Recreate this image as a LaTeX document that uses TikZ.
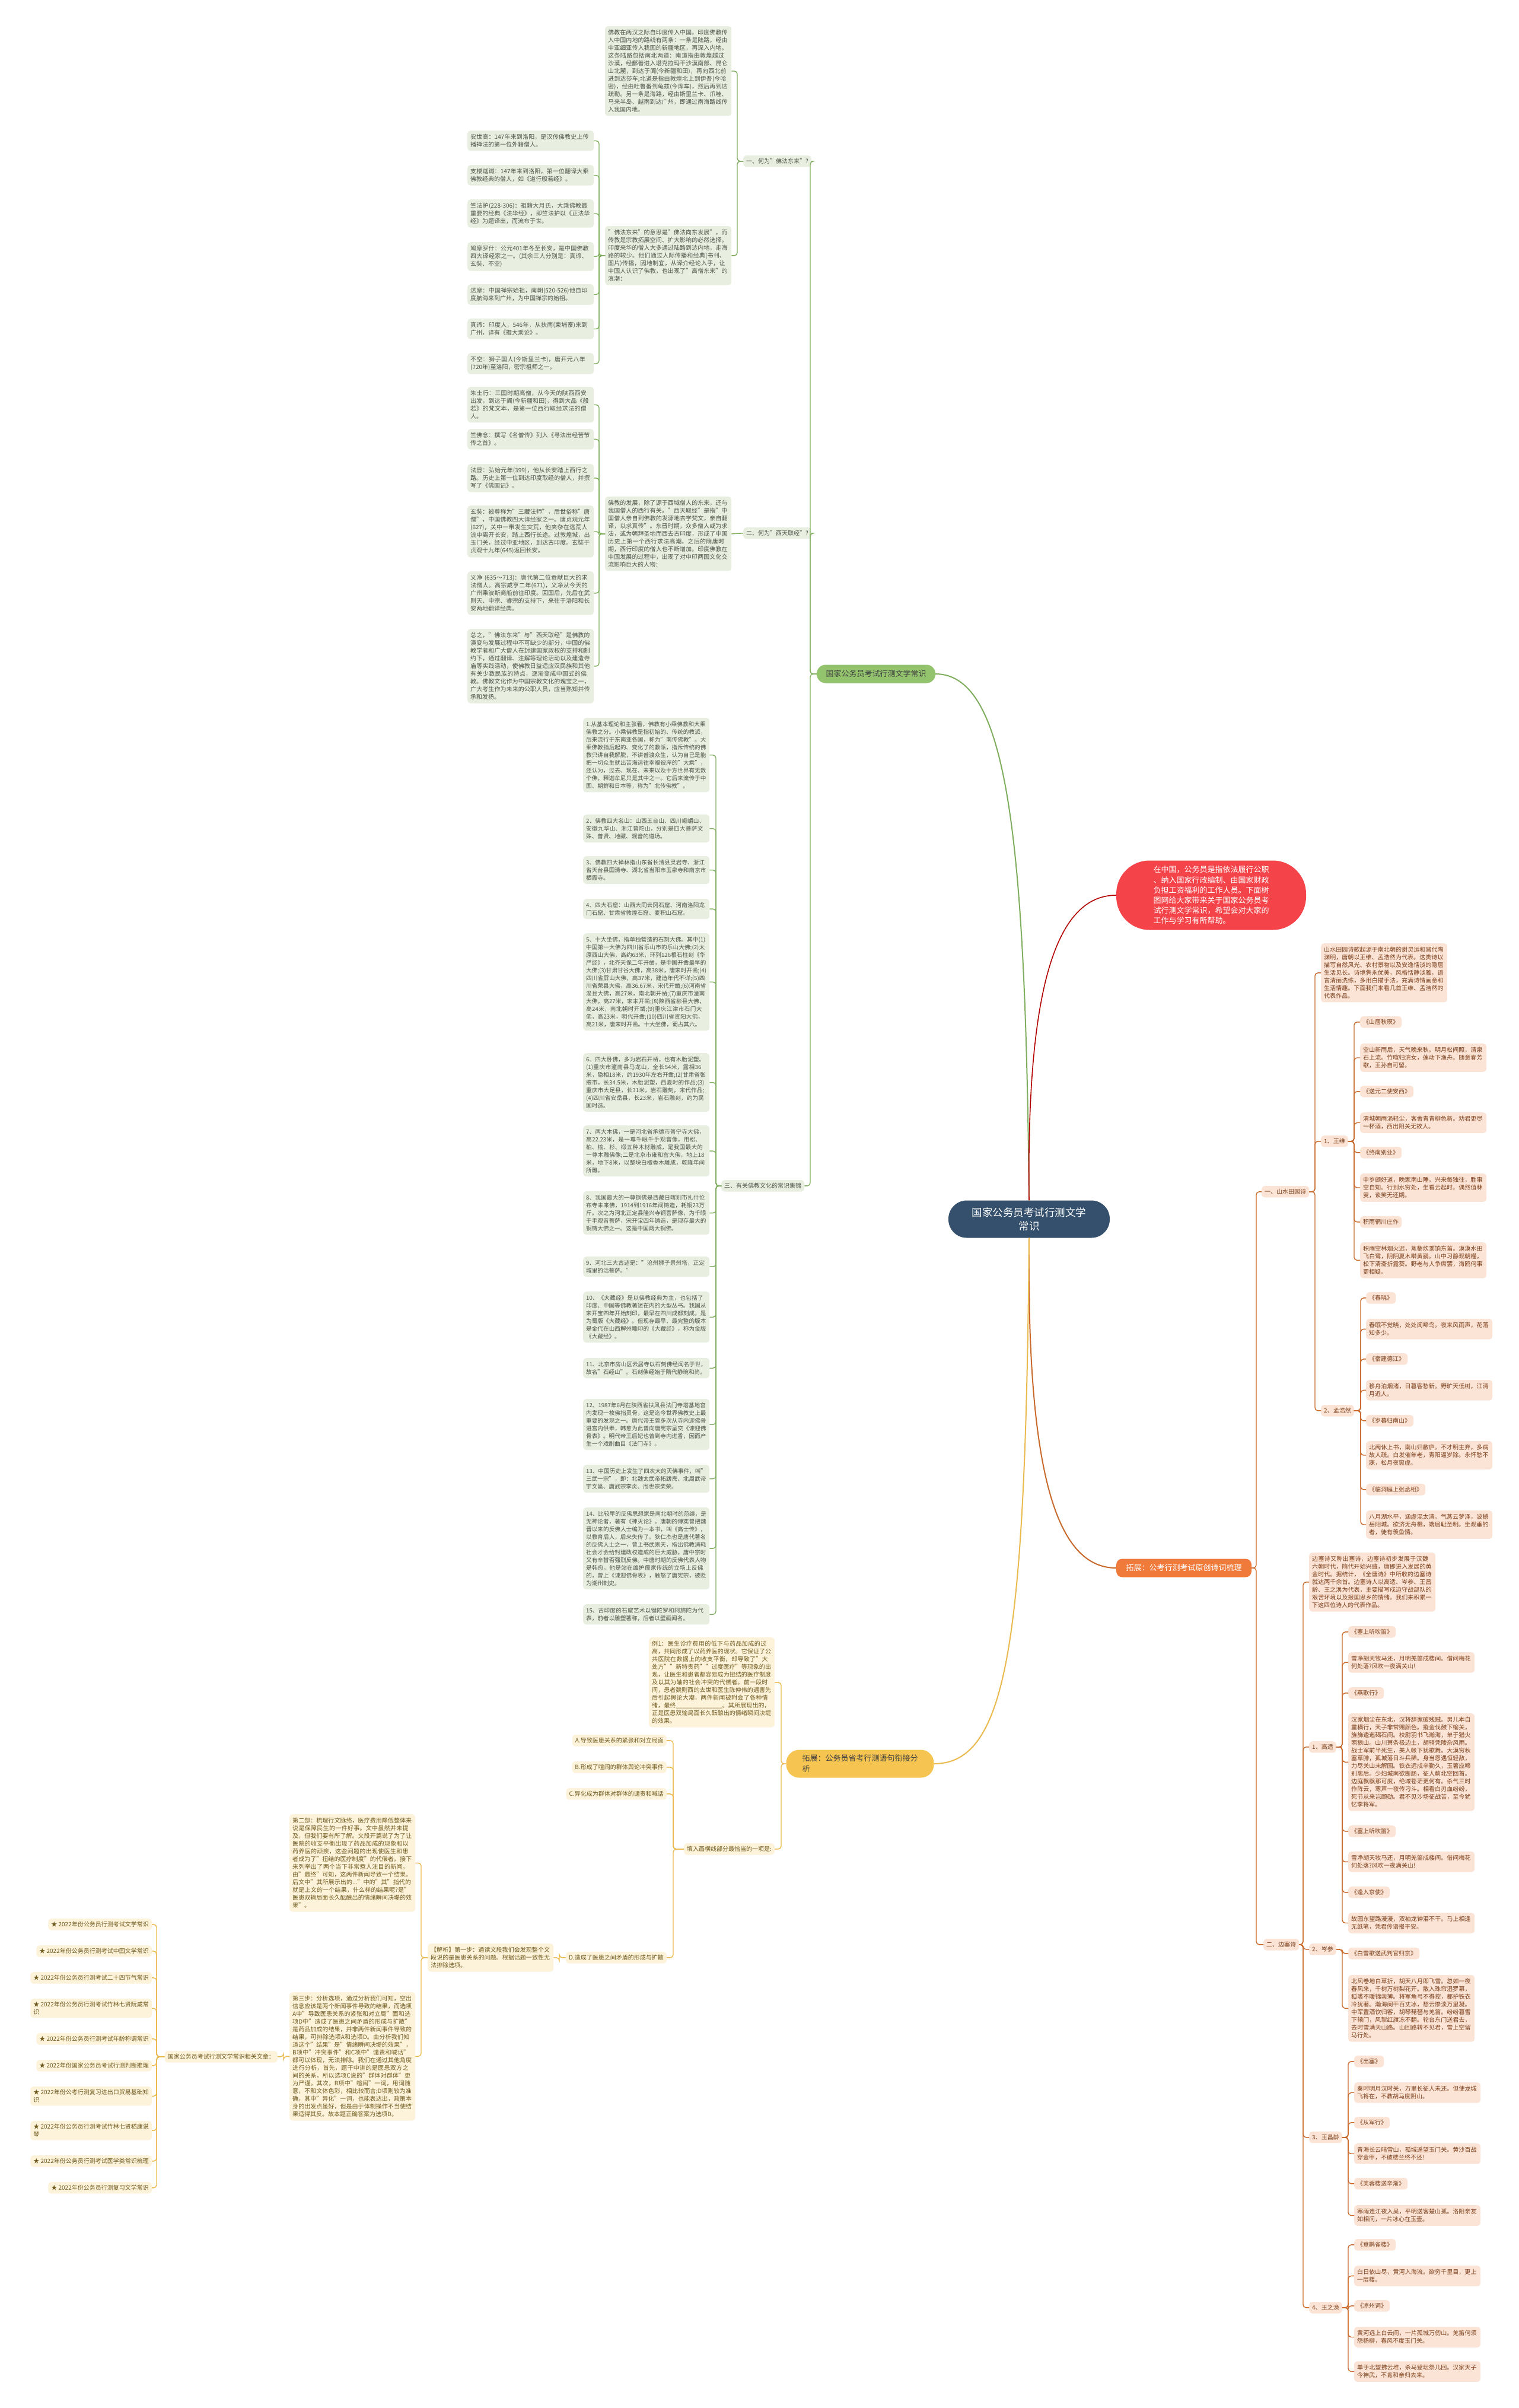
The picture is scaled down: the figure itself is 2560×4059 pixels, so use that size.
\documentclass[tikz,border=0pt]{standalone}
\usepackage{fontspec}
\setmainfont{Noto Sans CJK SC}
\usetikzlibrary{positioning,calc}
\XeTeXlinebreaklocale "zh"
\XeTeXlinebreakskip = 0pt plus 1pt

\definecolor{ctrFill}{HTML}{34506C}
\definecolor{redFill}{HTML}{F4444A}
\definecolor{grnLine}{HTML}{7FAE5E}
\definecolor{grnFill}{HTML}{E8EFE1}
\definecolor{grnText}{HTML}{4E5548}
\definecolor{grnNode}{HTML}{93C46D}
\definecolor{orgLine}{HTML}{C9692B}
\definecolor{orgFill}{HTML}{FBE4D6}
\definecolor{orgText}{HTML}{7A3D18}
\definecolor{orgNode}{HTML}{F07A3A}
\definecolor{ylwLine}{HTML}{EBBA4E}
\definecolor{ylwFill}{HTML}{FDF2DA}
\definecolor{ylwText}{HTML}{6E5A1E}
\definecolor{ylwNode}{HTML}{F6C450}

\tikzset{
  smalltext/.style={font=\fontsize{10}{13}\selectfont},
  gbox/.style={smalltext, fill=grnFill, text=grnText, rounded corners=5pt, inner xsep=5pt, inner ysep=6pt, anchor=north west, align=left, text width=203pt},
  nbox/.style={gbox, font=\fontsize{9.6}{13}\selectfont},
  glabel/.style={smalltext, fill=grnFill, text=grnText, rounded corners=5pt, inner xsep=5pt, inner ysep=5pt, anchor=north west},
  obox/.style={smalltext, fill=orgFill, text=orgText, rounded corners=5pt, inner xsep=5pt, inner ysep=6pt, anchor=north west, align=left, text width=203pt},
  olabel/.style={smalltext, fill=orgFill, text=orgText, rounded corners=5pt, inner xsep=5pt, inner ysep=5pt, anchor=north west},
  ybox/.style={smalltext, fill=ylwFill, text=ylwText, rounded corners=5pt, inner xsep=5pt, inner ysep=6pt, anchor=north west, align=left, text width=202pt},
  ylabel/.style={smalltext, fill=ylwFill, text=ylwText, rounded corners=5pt, inner xsep=5pt, inner ysep=5pt, anchor=north east},
  gconn/.style={draw=grnLine, line width=1.4pt, rounded corners=5pt},
  oconn/.style={draw=orgLine, line width=1.4pt, rounded corners=5pt},
  yconn/.style={draw=ylwLine, line width=1.4pt, rounded corners=5pt}
}

\begin{document}
\begin{tikzpicture}[x=1pt, y=-1pt]
    \fill[white] (0,0) rectangle (2560,4059);
    \useasboundingbox (0,0) rectangle (2560,4059);

    % centre and first level
    \node[fill=ctrFill, text=white, rounded corners=31pt, minimum width=272pt, minimum height=63pt, align=center, font=\fontsize{17.5}{22.5}\selectfont] (ctr) at (1735,2055) {国家公务员考试行测文学\\常识};
    \node[fill=redFill, text=white, rounded corners=56pt, minimum width=320pt, minimum height=117pt, align=left, font=\fontsize{13}{17.2}\selectfont] (intro) at (2042,1509) {在中国，公务员是指依法履行公职\\、纳入国家行政编制、由国家财政\\负担工资福利的工作人员。下面树\\图网给大家带来关于国家公务员考\\试行测文学常识，希望会对大家的\\工作与学习有所帮助。};
    \node[fill=grnNode, text=black!75, rounded corners=15pt, minimum width=200pt, minimum height=31pt, font=\fontsize{13}{16}\selectfont] (gmain) at (1477,1136) {国家公务员考试行测文学常识};
    \node[fill=orgNode, text=white, rounded corners=10pt, minimum width=228pt, minimum height=31pt, font=\fontsize{13}{16}\selectfont] (omain) at (1996,2643) {拓展：公考行测考试原创诗词梳理};
    \node[fill=ylwNode, text=black!75, rounded corners=22pt, minimum width=249pt, minimum height=47pt, align=left, font=\fontsize{13}{18}\selectfont] (ymain) at (1450,2973) {拓展：公务员省考行测语句衔接分\\析};

    \draw[grnLine, line width=2pt] (ctr.north) .. controls (1729,1420) and (1700,1136) .. (gmain.east);
    \draw[red!70!black, line width=1.6pt] (ctr.north) .. controls (1731,1700) and (1770,1509) .. (intro.west);
    \draw[orgLine, line width=2pt] (ctr.south) .. controls (1731,2480) and (1780,2643) .. (omain.west);
    \draw[ylwLine, line width=2pt] (ctr.south) .. controls (1729,2760) and (1700,2973) .. (ymain.east);

    % green branch
    \node[glabel] (g1) at (1253,262) {一、何为"佛法东来"?};
    \node[glabel] (g2) at (1253,889) {二、何为"西天取经"?};
    \node[glabel] (g3) at (1216,1989) {三、有关佛教文化的常识集锦};

    \node[gbox] (g1a) at (1020,44) {佛教在两汉之际自印度传入中国。印度佛教传入中国内地的路线有两条：一条是陆路，经由中亚细亚传入我国的新疆地区，再深入内地。这条陆路包括南北两道：南道指由敦煌越过沙漠，经鄯善进入塔克拉玛干沙漠南部、昆仑山北麓，到达于阗(今新疆和田)，再向西北前进到达莎车;北道是指由敦煌北上到伊吾(今哈密)，经由吐鲁番到龟兹(今库车)，然后再到达疏勒。另一条是海路，经由斯里兰卡、爪哇、马来半岛、越南到达广州，即通过南海路线传入我国内地。};
    \node[gbox] (g1b) at (1020,381) {"佛法东来"的意思是"佛法向东发展"，而传教是宗教拓展空间、扩大影响的必然选择。印度来华的僧人大多通过陆路到达内地，走海路的较少。他们通过人际传播和经典(书刊、图片)传播，因地制宜，从译介经论入手，让中国人认识了佛教，也出现了"高僧东来"的浪潮：};
    \node[gbox] (g1b1) at (788,220) {安世高：147年来到洛阳，是汉传佛教史上传播禅法的第一位外籍僧人。};
    \node[gbox] (g1b2) at (788,278) {支楼迦谶：147年来到洛阳，第一位翻译大乘佛教经典的僧人，如《道行般若经》。};
    \node[gbox] (g1b3) at (788,336) {竺法护(228-306)：祖籍大月氏，大乘佛教最重要的经典《法华经》，即竺法护以《正法华经》为题译出，而流布于世。};
    \node[gbox] (g1b4) at (788,408) {鸠摩罗什：公元401年冬至长安，是中国佛教四大译经家之一。(其余三人分别是：真谛、玄奘、不空)};
    \node[gbox] (g1b5) at (788,479) {达摩：中国禅宗始祖，南朝(520-526)他自印度航海来到广州，为中国禅宗的始祖。};
    \node[gbox] (g1b6) at (788,537) {真谛：印度人，546年，从扶南(柬埔寨)来到广州，译有《摄大乘论》。};
    \node[gbox] (g1b7) at (788,595) {不空：狮子国人(今斯里兰卡)，唐开元八年(720年)至洛阳，密宗祖师之一。};

    \node[gbox] (g2a) at (1020,837) {佛教的发展，除了源于西域僧人的东来，还与我国僧人的西行有关。"西天取经"是指"中国僧人亲自到佛教的发源地去学梵文，亲自翻译，以求真传"。东晋时期，众多僧人或为求法，或为朝拜圣地而西去古印度，形成了中国历史上第一个西行求法高潮。之后的隋唐时期，西行印度的僧人也不断增加。印度佛教在中国发展的过程中，出现了对中印两国文化交流影响巨大的人物：};
    \node[gbox] (g2a1) at (788,652) {朱士行：三国时期高僧，从今天的陕西西安出发，到达于阗(今新疆和田)，得到大品《般若》的梵文本，是第一位西行取经求法的僧人。};
    \node[gbox] (g2a2) at (788,723) {竺佛念：撰写《名僧传》列入《寻法出经苦节传之首》。};
    \node[gbox] (g2a3) at (788,782) {法显：弘始元年(399)，他从长安踏上西行之路。历史上第一位到达印度取经的僧人，并撰写了《佛国记》。};
    \node[gbox] (g2a4) at (788,852) {玄奘：被尊称为"三藏法师"，后世俗称"唐僧"，中国佛教四大译经家之一。唐贞观元年(627)，关中一带发生灾荒，他夹杂在逃荒人流中离开长安，踏上西行长途。过敦煌城，出玉门关，经过中亚地区，到达古印度。玄奘于贞观十九年(645)返回长安。};
    \node[gbox] (g2a5) at (788,963) {义净 (635～713)：唐代第二位贡献巨大的求法僧人。高宗咸亨二年(671)，义净从今天的广州乘波斯商船前往印度。回国后，先后在武则天、中宗、睿宗的支持下，来往于洛阳和长安两地翻译经典。};
    \node[gbox] (g2a6) at (788,1060) {总之，"佛法东来"与"西天取经"是佛教的演变与发展过程中不可缺少的部分，中国的佛教学者和广大僧人在封建国家政权的支持和制约下，通过翻译、注解等理论活动以及建造寺庙等实践活动，使佛教日益适应汉民族和其他有关少数民族的特点，逐渐变成中国式的佛教。佛教文化作为中国宗教文化的瑰宝之一，广大考生作为未来的公职人员，应当熟知并传承和发扬。};

    \node[nbox] (n1) at (983,1210) {1.从基本理论和主张看，佛教有小乘佛教和大乘佛教之分。小乘佛教是指初始的、传统的教派，后来流行于东南亚各国，称为"南传佛教"。大乘佛教指后起的、变化了的教派，指斥传统的佛教只讲自我解脱，不讲普渡众生，认为自己是能把一切众生就出苦海运往幸福彼岸的"大乘"，还认为，过去、现在、未来以及十方世界有无数个佛，释迦牟尼只是其中之一。它后来流传于中国、朝鲜和日本等，称为"北传佛教"。};
    \node[nbox] (n2) at (983,1373) {2、佛教四大名山：山西五台山、四川峨嵋山、安徽九华山、浙江普陀山，分别是四大菩萨文殊、普贤、地藏、观音的道场。};
    \node[nbox] (n3) at (983,1443) {3、佛教四大禅林指山东省长清县灵岩寺、浙江省天台县国清寺、湖北省当阳市玉泉寺和南京市栖霞寺。};
    \node[nbox] (n4) at (983,1515) {4、四大石窟：山西大同云冈石窟、河南洛阳龙门石窟、甘肃省敦煌石窟、麦积山石窟。};
    \node[nbox] (n5) at (983,1573) {5、十大坐佛，指单独营造的石刻大佛。其中(1)中国第一大佛为四川省乐山市的乐山大佛;(2)太原西山大佛，高约63米，环列126根石柱刻《华严经》，北齐天保二年开凿，是中国开凿最早的大佛;(3)甘肃甘谷大佛，高38米，唐宋时开凿;(4)四川省屏山大佛，高37米，建造年代不详;(5)四川省荣县大佛，高36.67米，宋代开凿;(6)河南省浚县大佛，高27米，南北朝开凿;(7)重庆市潼南大佛，高27米，宋末开凿;(8)陕西省彬县大佛，高24米，南北朝时开凿;(9)重庆江津市石门大佛，高23米，明代开凿;(10)四川省资阳大佛，高21米，唐宋时开凿。十大坐佛，蜀占其六。};
    \node[nbox] (n6) at (983,1775) {6、四大卧佛，多为岩石开凿，也有木胎泥塑。(1)重庆市潼南县马龙山，全长54米，露相36米，隐相18米，约1930年左右开凿;(2)甘肃省张掖市，长34.5米，木胎泥塑，西夏时的作品;(3)重庆市大足县，长31米，岩石雕刻，宋代作品;(4)四川省安岳县，长23米，岩石雕刻，约为民国时造。};
    \node[nbox] (n7) at (983,1897) {7、两大木佛，一是河北省承德市普宁寺大佛，高22.23米，是一尊千眼千手观音像，用松、柏、榆、杉、椴五种木材雕成，是我国最大的一尊木雕佛像;二是北京市雍和宫大佛，地上18米，地下8米，以整块白檀香木雕成，乾隆年间所雕。};
    \node[nbox] (n8) at (983,2008) {8、我国最大的一尊铜佛是西藏日喀则市扎什伦布寺未来佛，1914到1916年间铸造，耗铜23万斤。次之为河北正定县隆兴寺铜菩萨像，为千眼千手观音菩萨，宋开宝四年铸造，是现存最大的铜铸大佛之一。这是中国两大铜佛。};
    \node[nbox] (n9) at (983,2118) {9、河北三大古迹是："沧州狮子景州塔，正定城里的活菩萨。"};
    \node[nbox] (n10) at (983,2177) {10、《大藏经》是以佛教经典为主，也包括了印度、中国等佛教著述在内的大型丛书。我国从宋开宝四年开始刻印，最早在四川成都刻成，是为蜀版《大藏经》。但现存最早、最完整的版本是金代在山西解州雕印的《大藏经》，称为金版《大藏经》。};
    \node[nbox] (n11) at (983,2289) {11、北京市房山区云居寺以石刻佛经闻名于世，故名"石经山"。石刻佛经始于隋代静琬和尚。};
    \node[nbox] (n12) at (983,2358) {12、1987年6月在陕西省扶风县法门寺塔基地宫内发现一枚佛指灵骨，这是迄今世界佛教史上最重要的发现之一。唐代帝王曾多次从寺内迎佛骨进宫内供奉，韩愈为此曾向唐宪宗呈交《谏迎佛骨表》。明代帝王后妃也曾到寺内进香，因而产生一个戏剧曲目《法门寺》。};
    \node[nbox] (n13) at (983,2469) {13、中国历史上发生了四次大的灭佛事件，叫"三武一宗"，即：北魏太武帝拓跋焘、北周武帝宇文邕、唐武宗李炎、周世宗柴荣。};
    \node[nbox] (n14) at (983,2541) {14、比较早的反佛思想家是南北朝时的范缜，是无神论者，著有《神灭论》。唐朝的傅奕曾把魏晋以来的反佛人士编为一本书，叫《高士传》，以教育后人，后来失传了。狄仁杰也是唐代著名的反佛人士之一，曾上书武则天，指出佛教消耗社会才会给封建政权造成的巨大威胁。唐中宗时又有辛替否强烈反佛。中唐时期的反佛代表人物是韩愈，他是站在维护儒家传统的立场上反佛的，曾上《谏迎佛骨表》，触怒了唐宪宗，被贬为潮州刺史。};
    \node[nbox] (n15) at (983,2704) {15、古印度的石窟艺术以犍陀罗和阿旃陀为代表，前者以雕塑著称，后者以壁画闻名。};

    \foreach \c in {g1,g2,g3}
        \draw[gconn] (gmain.west) -- (gmain.west -| 1366,0) |- (\c.east);
    \foreach \c in {g1a,g1b}
        \draw[gconn] (g1.west) -- (g1.west -| 1243,0) |- (\c.east);
    \foreach \c in {g1b1,g1b2,g1b3,g1b4,g1b5,g1b6,g1b7}
        \draw[gconn] (g1b.west) -- (g1b.west -| 1010,0) |- (\c.east);
    \draw[gconn] (g2.west) -- (g2a.east);
    \foreach \c in {g2a1,g2a2,g2a3,g2a4,g2a5,g2a6}
        \draw[gconn] (g2a.west) -- (g2a.west -| 1010,0) |- (\c.east);
    \foreach \c in {n1,n2,n3,n4,n5,n6,n7,n8,n9,n10,n11,n12,n13,n14,n15}
        \draw[gconn] (g3.west) -- (g3.west -| 1207,0) |- (\c.east);

    % orange branch
    \node[olabel] (o1) at (2127,1999) {一、山水田园诗};
    \node[olabel] (o2) at (2130,3268) {二、边塞诗};

    \node[obox] (o1a) at (2227,1590) {山水田园诗歌起源于南北朝的谢灵运和晋代陶渊明，唐朝以王维、孟浩然为代表。这类诗以描写自然风光、农村景物以及安逸恬淡的隐居生活见长。诗境隽永优美，风格恬静淡雅，语言清丽洗练，多用白描手法，充满诗情画意和生活情趣。下面我们来看几首王维、孟浩然的代表作品。};
    \node[olabel] (o1b) at (2227,1914) {1、王维};
    \node[olabel] (o1c) at (2227,2368) {2、孟浩然};

    \node[olabel] (o1b1) at (2293,1713) {《山居秋暝》};
    \node[obox] (o1b2) at (2293,1759) {空山新雨后，天气晚来秋。明月松间照，清泉石上流。竹喧归浣女，莲动下渔舟。随意春芳歇，王孙自可留。};
    \node[olabel] (o1b3) at (2293,1830) {《送元二使安西》};
    \node[obox] (o1b4) at (2293,1875) {渭城朝雨浥轻尘，客舍青青柳色新。劝君更尽一杯酒，西出阳关无故人。};
    \node[olabel] (o1b5) at (2293,1933) {《终南别业》};
    \node[obox] (o1b6) at (2293,1978) {中岁颇好道，晚家南山陲。兴来每独往，胜事空自知。行到水穷处，坐看云起时。偶然值林叟，谈笑无还期。};
    \node[olabel] (o1b7) at (2293,2050) {积雨辋川庄作};
    \node[obox] (o1b8) at (2293,2094) {积雨空林烟火迟，蒸藜炊黍饷东菑。漠漠水田飞白鹭，阴阴夏木啭黄鹂。山中习静观朝槿，松下清斋折露葵。野老与人争席罢，海鸥何事更相疑。};

    \node[olabel] (o1c1) at (2303,2178) {《春晓》};
    \node[obox] (o1c2) at (2303,2223) {春眠不觉晓，处处闻啼鸟。夜来风雨声，花落知多少。};
    \node[olabel] (o1c3) at (2303,2281) {《宿建德江》};
    \node[obox] (o1c4) at (2303,2326) {移舟泊烟渚，日暮客愁新。野旷天低树，江清月近人。};
    \node[olabel] (o1c5) at (2303,2385) {《岁暮归南山》};
    \node[obox] (o1c6) at (2303,2429) {北阙休上书，南山归敝庐。不才明主弃，多病故人疏。白发催年老，青阳逼岁除。永怀愁不寐，松月夜窗虚。};
    \node[olabel] (o1c7) at (2303,2501) {《临洞庭上张丞相》};
    \node[obox] (o1c8) at (2303,2546) {八月湖水平，涵虚混太清。气蒸云梦泽，波撼岳阳城。欲济无舟楫，端居耻圣明。坐观垂钓者，徒有羡鱼情。};

    \node[obox] (o2a) at (2207,2617) {边塞诗又称出塞诗，边塞诗初步发展于汉魏六朝时代，隋代开始兴盛，唐即进入发展的黄金时代。据统计，《全唐诗》中所收的边塞诗就达两千余首。边塞诗人以高适、岑参、王昌龄、王之涣为代表，主要描写戍边守战部队的艰苦环境以及报国思乡的情绪。我们来积累一下这四位诗人的代表作品。};
    \node[olabel] (o2b) at (2207,2935) {1、高适};
    \node[olabel] (o2c) at (2207,3276) {2、岑参};
    \node[olabel] (o2d) at (2207,3593) {3、王昌龄};
    \node[olabel] (o2e) at (2207,3880) {4、王之涣};

    \node[olabel] (o2b1) at (2273,2741) {《塞上听吹笛》};
    \node[obox] (o2b2) at (2273,2785) {雪净胡天牧马还，月明羌笛戍楼间。借问梅花何处落?风吹一夜满关山!};
    \node[olabel] (o2b3) at (2273,2844) {《燕歌行》};
    \node[obox] (o2b4) at (2273,2888) {汉家烟尘在东北，汉将辞家破残贼。男儿本自重横行，天子非常赐颜色。摐金伐鼓下榆关，旌旆逶迤碣石间。校尉羽书飞瀚海，单于猎火照狼山。山川萧条极边土，胡骑凭陵杂风雨。战士军前半死生，美人帐下犹歌舞。大漠穷秋塞草腓，孤城落日斗兵稀。身当恩遇恒轻敌，力尽关山未解围。铁衣远戍辛勤久，玉箸应啼别离后。少妇城南欲断肠，征人蓟北空回首。边庭飘飖那可度，绝域苍茫更何有。杀气三时作阵云，寒声一夜传刁斗。相看白刃血纷纷，死节从来岂顾勋。君不见沙场征战苦，至今犹忆李将军。};
    \node[olabel] (o2b5) at (2273,3077) {《塞上听吹笛》};
    \node[obox] (o2b6) at (2273,3121) {雪净胡天牧马还，月明羌笛戍楼间。借问梅花何处落?风吹一夜满关山!};
    \node[olabel] (o2b7) at (2273,3180) {《逢入京使》};
    \node[obox] (o2b8) at (2273,3224) {故园东望路漫漫，双袖龙钟泪不干。马上相逢无纸笔，凭君传语报平安。};

    \node[olabel] (o2c1) at (2273,3283) {《白雪歌送武判官归京》};
    \node[obox] (o2c2) at (2273,3329) {北风卷地白草折，胡天八月即飞雪。忽如一夜春风来，千树万树梨花开。散入珠帘湿罗幕，狐裘不暖锦衾薄。将军角弓不得控，都护铁衣冷犹著。瀚海阑干百丈冰，愁云惨淡万里凝。中军置酒饮归客，胡琴琵琶与羌笛。纷纷暮雪下辕门，风掣红旗冻不翻。轮台东门送君去，去时雪满天山路。山回路转不见君，雪上空留马行处。};

    \node[olabel] (o2d1) at (2283,3465) {《出塞》};
    \node[obox] (o2d2) at (2283,3510) {秦时明月汉时关，万里长征人未还。但使龙城飞将在，不教胡马度阴山。};
    \node[olabel] (o2d3) at (2283,3568) {《从军行》};
    \node[obox] (o2d4) at (2283,3613) {青海长云暗雪山，孤城遥望玉门关。黄沙百战穿金甲，不破楼兰终不还!};
    \node[olabel] (o2d5) at (2283,3671) {《芙蓉楼送辛渐》};
    \node[obox] (o2d6) at (2283,3717) {寒雨连江夜入吴，平明送客楚山孤。洛阳亲友如相问，一片冰心在玉壶。};

    \node[olabel] (o2e1) at (2283,3774) {《登鹳雀楼》};
    \node[obox] (o2e2) at (2283,3819) {白日依山尽，黄河入海流。欲穷千里目，更上一层楼。};
    \node[olabel] (o2e3) at (2283,3877) {《凉州词》};
    \node[obox] (o2e4) at (2283,3922) {黄河远上白云间，一片孤城万仞山。羌笛何须怨杨柳，春风不度玉门关。};
    \node[obox] (o2e5) at (2283,3980) {单于北望拂云堆，杀马登坛祭几回。汉家天子今神武，不肯和亲归去来。};

    \foreach \c in {o1,o2}
        \draw[oconn] (omain.east) -- (omain.east -| 2118,0) |- (\c.west);
    \foreach \c in {o1a,o1b,o1c}
        \draw[oconn] (o1.east) -- (o1.east -| 2217,0) |- (\c.west);
    \foreach \c in {o1b1,o1b2,o1b3,o1b4,o1b5,o1b6,o1b7,o1b8}
        \draw[oconn] (o1b.east) -- (o1b.east -| 2283,0) |- (\c.west);
    \foreach \c in {o1c1,o1c2,o1c3,o1c4,o1c5,o1c6,o1c7,o1c8}
        \draw[oconn] (o1c.east) -- (o1c.east -| 2294,0) |- (\c.west);
    \foreach \c in {o2a,o2b,o2c,o2d,o2e}
        \draw[oconn] (o2.east) -- (o2.east -| 2197,0) |- (\c.west);
    \foreach \c in {o2b1,o2b2,o2b3,o2b4,o2b5,o2b6,o2b7,o2b8}
        \draw[oconn] (o2b.east) -- (o2b.east -| 2263,0) |- (\c.west);
    \foreach \c in {o2c1,o2c2}
        \draw[oconn] (o2c.east) -- (o2c.east -| 2263,0) |- (\c.west);
    \foreach \c in {o2d1,o2d2,o2d3,o2d4,o2d5,o2d6}
        \draw[oconn] (o2d.east) -- (o2d.east -| 2273,0) |- (\c.west);
    \foreach \c in {o2e1,o2e2,o2e3,o2e4,o2e5}
        \draw[oconn] (o2e.east) -- (o2e.east -| 2273,0) |- (\c.west);

    % yellow branch
    \node[ybox] (y1) at (1094,2760) {例1：医生诊疗费用的低下与药品加成的过高，共同形成了以药养医的现状。它保证了公共医院在数据上的收支平衡，却导致了"大处方""新特贵药""过度医疗"等现象的出现，让医生和患者都容易成为扭结的医疗制度及以其为轴的社会冲突的代偿者。前一段时间，患者魏则西的去世和医生陈仲伟的遇害先后引起舆论大潮，两件新闻被附会了各种情绪，最终\_\_\_\_\_\_\_\_\_\_\_\_\_\_。其所展现出的，正是医患双输局面长久酝酿出的情绪瞬间决堤的效果。};
    \node[ylabel] (y2) at (1306,3107) {填入画横线部分最恰当的一项是:};
    \node[ylabel] (ya) at (1124,2924) {A.导致医患关系的紧张和对立局面};
    \node[ylabel] (yb) at (1124,2969) {B.形成了喧闹的群体舆论冲突事件};
    \node[ylabel] (yc) at (1124,3014) {C.异化成为群体对群体的谴责和喊话};
    \node[ylabel] (yd) at (1124,3290) {D.造成了医患之间矛盾的形成与扩散};
    \node[ybox] (yj) at (721,3276) {【解析】第一步：通读文段我们会发现整个文段说的是医患关系的问题。根据话题一致性无法排除选项。};
    \node[ybox] (yj1) at (488,3058) {第二部：梳理行文脉络，医疗费用降低整体来说是保障民生的一件好事。文中虽然并未提及，但我们要有所了解。文段开篇说了为了让医院的收支平衡出现了药品加成的现象和以药养医的顽疾，这些问题的出现使医生和患者成为了"扭结的医疗制度"的代偿者。接下来列举出了两个当下非常惹人注目的新闻，由"最终"可知，这两件新闻导致一个结果。后文中"其所展示出的..."中的"其"指代的就是上文的一个结果，什么样的结果呢?是"医患双输局面长久酝酿出的情绪瞬间决堤的效果"。};
    \node[ybox] (yj2) at (488,3358) {第三步：分析选项，通过分析我们可知，空出信息应该是两个新闻事件导致的结果，而选项A中"导致医患关系的紧张和对立局"面和选项D中"造成了医患之间矛盾的形成与扩散"是药品加成的结果，并非两件新闻事件导致的结果，可排除选项A和选项D。由分析我们知道这个"结果"是"情绪瞬间决堤的效果"，B项中"冲突事件"和C项中"谴责和喊话"都可以体现，无法排除。我们在通过其他角度进行分析，首先，题干中讲的是医患双方之间的关系，所以选项C说的"群体对群体"更为严谨。其次，B项中"喧闹"一词，用词随意，不和文体色彩，相比较而言;D项则较为准确，其中"异化"一词，也能表达出，政策本身的出发点虽好，但是由于体制操作不当使结果适得其反。故本题正确答案为选项D。};
    \node[ylabel] (yk) at (468,3457) {国家公务员考试行测文学常识相关文章：};
    \node[ylabel] (s1) at (256,3234) {★ 2022年份公务员行测考试文学常识};
    \node[ylabel] (s2) at (256,3279) {★ 2022年份公务员行测考试中国文学常识};
    \node[ylabel] (s3) at (256,3324) {★ 2022年份公务员行测考试二十四节气常识};
    \node[ylabel, align=left] (s4) at (256,3369) {★ 2022年份公务员行测考试竹林七贤阮咸常\\识};
    \node[ylabel] (s5) at (256,3427) {★ 2022年份公务员行测考试年龄称谓常识};
    \node[ylabel] (s6) at (256,3472) {★ 2022年份国家公务员考试行测判断推理};
    \node[ylabel, align=left] (s7) at (256,3517) {★ 2022年份公考行测复习进出口贸易基础知\\识};
    \node[ylabel, align=left] (s8) at (256,3575) {★ 2022年份公务员行测考试竹林七贤嵇康说\\琴};
    \node[ylabel] (s9) at (256,3633) {★ 2022年份公务员行测考试医学类常识梳理};
    \node[ylabel] (s10) at (256,3678) {★ 2022年份公务员行测复习文学常识};

    \foreach \c in {y1,y2}
        \draw[yconn] (ymain.west) -- (ymain.west -| 1317,0) |- (\c.east);
    \foreach \c in {ya,yb,yc,yd}
        \draw[yconn] (y2.west) -- (y2.west -| 1135,0) |- (\c.east);
    \draw[yconn] (yd.west) -- (yd.west -| 943,0) |- (yj.east);
    \foreach \c in {yj1,yj2}
        \draw[yconn] (yj.west) -- (yj.west -| 710,0) |- (\c.east);
    \draw[yconn] (yj2.west) -- (yj2.west -| 478,0) |- (yk.east);
    \foreach \c in {s1,s2,s3,s4,s5,s6,s7,s8,s9,s10}
        \draw[yconn] (yk.west) -- (yk.west -| 264,0) |- (\c.east);
\end{tikzpicture}
\end{document}
